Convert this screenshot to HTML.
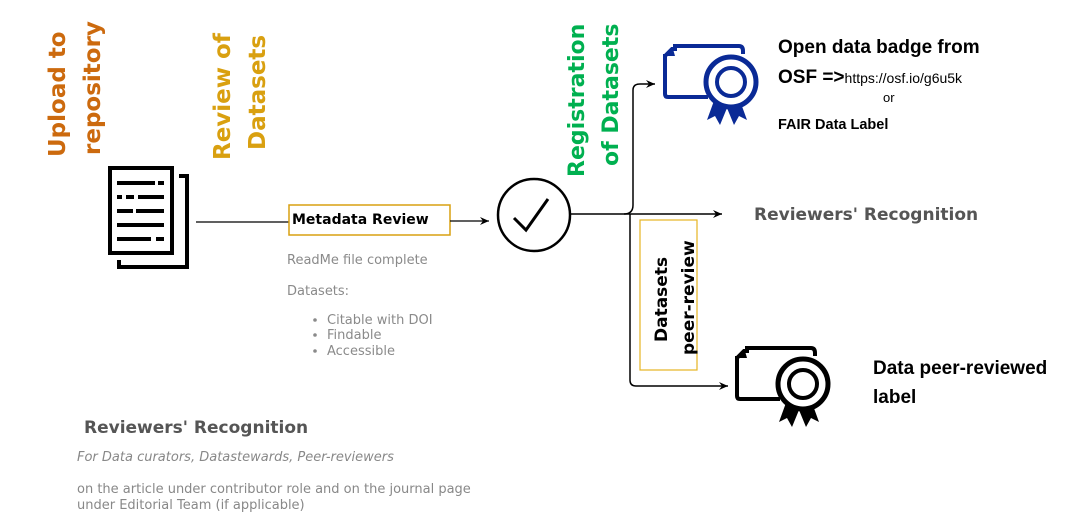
<!DOCTYPE html>
<html><head><meta charset="utf-8"><style>
html,body{margin:0;padding:0;background:#fff;}
svg{display:block;}
.d{font-family:"DejaVu Sans",sans-serif;}
.l{font-family:"Liberation Sans",sans-serif;}
</style></head><body>
<svg width="1089" height="513" viewBox="0 0 1089 513" xmlns="http://www.w3.org/2000/svg">
<defs>
<marker id="ar" markerWidth="10" markerHeight="10" refX="9" refY="5" orient="auto" markerUnits="userSpaceOnUse">
<path d="M0,1 L9,5 L0,9 L3,5 Z" fill="#000"/>
</marker>
<g id="badge">
<path d="M0,10 L7,3 L10,3 L10,0 L74,0 Q78,0 78,5 L78,8" fill="none" stroke="currentColor" stroke-width="4"/>
<path d="M0,8 L0,48 Q0,51 3,51 L43,51" fill="none" stroke="currentColor" stroke-width="4"/>
<path d="M0,10 L8,3 L10,10 Z" fill="currentColor"/>
<path d="M50,52 L42,74 L50,70 L55,79 L62,62 L69,79 L74,70 L82,74 L74,52 Z" fill="currentColor"/>
<circle cx="66" cy="36" r="25" fill="#fff" stroke="currentColor" stroke-width="5"/>
<circle cx="66" cy="36" r="14" fill="none" stroke="currentColor" stroke-width="4"/>
</g>
</defs>

<g class="d" font-weight="bold" font-size="23" fill="#cc6a0e">
<text transform="translate(65,157) rotate(-90)">Upload to</text>
<text transform="translate(100,155) rotate(-90)">repository</text>
</g>
<g class="d" font-weight="bold" font-size="23" fill="#d9a010">
<text transform="translate(230,160) rotate(-90)">Review of</text>
<text transform="translate(265,150) rotate(-90)">Datasets</text>
</g>
<g class="d" font-weight="bold" font-size="22" fill="#00b050">
<text transform="translate(584,177) rotate(-90)">Registration</text>
<text transform="translate(618,166) rotate(-90)">of Datasets</text>
</g>

<path d="M179,176 L187,176 L187,267 L119,267 L119,260" fill="none" stroke="#000" stroke-width="4"/>
<rect x="110" y="168" width="62" height="85" fill="#fff" stroke="#000" stroke-width="4"/>
<g stroke="#000" stroke-width="4">
<line x1="117" y1="183" x2="155" y2="183"/><line x1="158" y1="183" x2="164" y2="183"/>
<line x1="117" y1="197" x2="122" y2="197"/><line x1="126" y1="197" x2="134" y2="197"/><line x1="138" y1="197" x2="164" y2="197"/>
<line x1="117" y1="211" x2="133" y2="211"/><line x1="136" y1="211" x2="164" y2="211"/>
<line x1="117" y1="225" x2="164" y2="225"/>
<line x1="117" y1="239" x2="151" y2="239"/><line x1="156" y1="239" x2="164" y2="239"/>
</g>

<line x1="196" y1="222" x2="289" y2="222" stroke="#000" stroke-width="1.2"/>
<rect x="289" y="205" width="161" height="30" fill="#fff" stroke="#d9a010" stroke-width="1.5"/>
<text class="d" x="292" y="224" font-size="14" font-weight="bold">Metadata Review</text>
<line x1="450" y1="221" x2="489" y2="221" stroke="#000" stroke-width="1.2" marker-end="url(#ar)"/>

<g class="d" font-size="13" fill="#8a8a8a">
<text x="287" y="264">ReadMe file complete</text>
<text x="287" y="295">Datasets:</text>
<text x="327" y="324">Citable with DOI</text>
<text x="327" y="339">Findable</text>
<text x="327" y="355">Accessible</text>
<circle cx="315" cy="320" r="1.8"/><circle cx="315" cy="335" r="1.8"/><circle cx="315" cy="351" r="1.8"/>
</g>

<circle cx="534" cy="215" r="36" fill="none" stroke="#000" stroke-width="2.5"/>
<path d="M514,218 L526,230 L548,199" fill="none" stroke="#000" stroke-width="3"/>

<line x1="570" y1="214" x2="722" y2="214" stroke="#000" stroke-width="1.5" marker-end="url(#ar)"/>
<path d="M624,214 Q633,214 633,205 L633,90 Q633,84 640,84 L655,84" fill="none" stroke="#000" stroke-width="1.5" marker-end="url(#ar)"/>
<path d="M630,214 L630,380 Q630,386 636,386 L728,386" fill="none" stroke="#000" stroke-width="1.5" marker-end="url(#ar)"/>

<rect x="640" y="220" width="57" height="150" fill="#fff" stroke="#e6b422" stroke-width="1.2"/>
<g class="d" font-weight="bold" font-size="17" fill="#000">
<text transform="translate(667,342) rotate(-90)">Datasets</text>
<text transform="translate(694,355) rotate(-90)">peer-review</text>
</g>

<use href="#badge" x="665" y="46" style="color:#0a2a96"/>
<use href="#badge" x="737" y="348" style="color:#000"/>

<text class="l" x="778" y="53" font-size="19" font-weight="bold">Open data badge from</text>
<text class="l" x="778" y="83" font-size="19" font-weight="bold">OSF =&gt;<tspan font-size="14" font-weight="normal">https://osf.io/g6u5k</tspan></text>
<text class="l" x="883" y="102" font-size="13">or</text>
<text class="l" x="778" y="129" font-size="14.5" font-weight="bold">FAIR Data Label</text>
<text class="l" x="873" y="374" font-size="19" font-weight="bold">Data peer-reviewed</text>
<text class="l" x="873" y="403" font-size="19" font-weight="bold">label</text>

<text class="d" x="754" y="220" font-size="17" font-weight="bold" fill="#555">Reviewers' Recognition</text>
<text class="d" x="84" y="433" font-size="17" font-weight="bold" fill="#555">Reviewers' Recognition</text>
<text class="d" x="77" y="461" font-size="13" font-style="italic" fill="#888">For Data curators, Datastewards, Peer-reviewers</text>
<text class="d" x="77" y="493" font-size="13" fill="#888">on the article under contributor role and on the journal page</text>
<text class="d" x="77" y="509" font-size="13" fill="#888">under Editorial Team (if applicable)</text>
</svg>
</body></html>
